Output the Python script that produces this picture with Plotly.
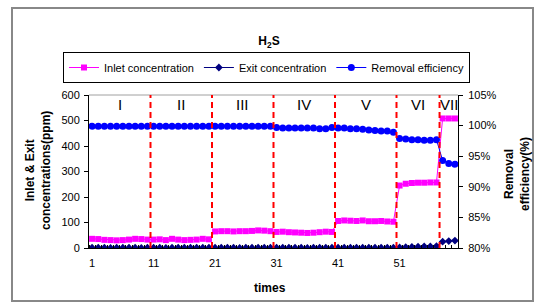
import plotly.graph_objects as go

# ---------------- data ----------------
times = list(range(1, 61))

inlet_ppm = [
    36, 35, 32, 31, 30, 31, 33, 36, 35, 33,          # I
    33, 34, 31, 36, 33, 31, 32, 33, 36, 34,          # II
    65, 66, 66, 65, 66, 66, 67, 69, 68, 66,          # III
    63, 64, 62, 61, 60, 59, 60, 62, 64, 63,          # IV
    106, 108, 107, 106, 108, 105, 105, 106, 104, 103,  # V
    245, 252, 255, 256, 256, 257, 257,               # VI
    508, 508, 508,                                   # VII
]

exit_ppm = [
    1, 1, 1, 0, 1, 1, 1, 1, 0, 1,
    1, 1, 0, 1, 1, 1, 1, 1, 1, 1,
    1, 1, 1, 1, 0, 1, 1, 1, 1, 1,
    1, 1, 1, 1, 1, 0, 1, 1, 1, 1,
    1, 1, 1, 1, 1, 1, 1, 1, 1, 1,
    2, 3, 4, 5, 6, 6, 7,
    25, 27, 29,
]

removal_pct = [
    99.9, 99.9, 99.9, 99.9, 99.9, 99.9, 99.9, 99.9, 99.9, 99.9,
    99.9, 99.9, 99.9, 99.9, 99.9, 99.9, 99.9, 99.9, 99.9, 99.9,
    99.9, 99.9, 99.9, 99.9, 99.9, 99.9, 99.9, 99.9, 99.9, 99.9,
    99.7, 99.6, 99.6, 99.6, 99.6, 99.6, 99.6, 99.5, 99.5, 99.7,
    99.6, 99.6, 99.5, 99.5, 99.4, 99.3, 99.2, 99.1, 99.1, 98.9,
    97.9, 97.8, 97.7, 97.7, 97.6, 97.6, 97.7,
    94.3, 93.8, 93.7,
]

phase_labels = ["I", "II", "III", "IV", "V", "VI", "VII"]
phase_centers = [5.5, 15.5, 25.5, 35.5, 45.5, 54.0, 59.0]
phase_boundaries = [10.5, 20.5, 30.5, 40.5, 50.5, 57.5]

x_tick_vals = [1, 11, 21, 31, 41, 51]
left_tick_vals = [0, 100, 200, 300, 400, 500, 600]
right_tick_vals = [80, 85, 90, 95, 100, 105]
right_tick_text = ["80%", "85%", "90%", "95%", "100%", "105%"]

FONT = "Arial, Liberation Sans, sans-serif"

# plot-area geometry (pixels)
L, R, T, B = 89, 458, 95, 248
PW, PH = R - L, B - T


def px_x(p):
    return (p - L) / PW


def px_y(p):
    return (B - p) / PH


# ---------------- figure ----------------
fig = go.Figure()

fig.add_trace(go.Scatter(
    x=times, y=inlet_ppm, name="Inlet concentration", mode="lines+markers",
    line=dict(color="#FF00FF", width=1),
    marker=dict(symbol="square", size=6, color="#FF00FF"),
))
fig.add_trace(go.Scatter(
    x=times, y=exit_ppm, name="Exit concentration", mode="lines+markers",
    line=dict(color="#000080", width=1),
    marker=dict(symbol="diamond", size=6, color="#000080"),
))
fig.add_trace(go.Scatter(
    x=times, y=removal_pct, name="Removal efficiency", mode="lines+markers",
    yaxis="y2",
    line=dict(color="#0000FF", width=1),
    marker=dict(symbol="circle", size=7, color="#0000FF"),
))

shapes = []
for b in phase_boundaries:
    shapes.append(dict(type="line", xref="x", yref="paper", x0=b, x1=b, y0=0, y1=1,
                       line=dict(color="#FF0000", width=2, dash="6px,4px"), layer="above"))
# top border of plot area (grey)
shapes.append(dict(type="line", xref="paper", yref="paper", x0=0, x1=1, y0=1, y1=1,
                   line=dict(color="#A0A0A0", width=1), layer="below"))
# outer chart frame
shapes.append(dict(type="rect", xref="paper", yref="paper",
                   x0=px_x(12), x1=px_x(533), y0=px_y(301), y1=px_y(8),
                   line=dict(color="#888888", width=2), layer="below"))

annotations = []
for lab, c in zip(phase_labels, phase_centers):
    annotations.append(dict(x=c, y=px_y(104), xref="x", yref="paper", text=lab,
                            showarrow=False, font=dict(family=FONT, size=15, color="black"),
                            xanchor="center", yanchor="middle"))
annotations.append(dict(x=px_x(38), y=px_y(171), xref="paper", yref="paper",
                        text="<b>Inlet & Exit<br>concentrations(ppm)</b>", textangle=-90,
                        showarrow=False, font=dict(family=FONT, size=12, color="black"),
                        xanchor="center", yanchor="middle"))
annotations.append(dict(x=px_x(517), y=px_y(174), xref="paper", yref="paper",
                        text="<b>Removal<br>efficiency(%)</b>", textangle=-90,
                        showarrow=False, font=dict(family=FONT, size=12, color="black"),
                        xanchor="center", yanchor="middle"))
annotations.append(dict(x=px_x(270), y=px_y(288), xref="paper", yref="paper",
                        text="<b>times</b>", showarrow=False,
                        font=dict(family=FONT, size=12, color="black"),
                        xanchor="center", yanchor="middle"))

fig.update_layout(
    width=538, height=307,
    margin=dict(l=L, r=538 - R, t=T, b=307 - B, autoexpand=False),
    paper_bgcolor="white", plot_bgcolor="white",
    font=dict(family=FONT, size=11, color="black"),
    title=dict(text="<b>H<sub>2</sub>S</b>", x=269 / 538, xanchor="center",
               y=1 - 41 / 307, yanchor="middle",
               font=dict(family=FONT, size=12, color="black")),
    showlegend=True,
    legend=dict(orientation="h", x=px_x(63), xanchor="left",
                y=px_y(52), yanchor="top",
                bordercolor="black", borderwidth=1, bgcolor="white",
                font=dict(family=FONT, size=11, color="black"),
                itemwidth=30, traceorder="normal", tracegroupgap=0),
    xaxis=dict(range=[0.5, 60.5], tickmode="array", tickvals=x_tick_vals,
               ticks="", showgrid=False, zeroline=False,
               showline=True, linecolor="black", linewidth=1,
               ticklabelstandoff=5,
               tickfont=dict(family=FONT, size=11, color="black"),
               minor=dict(tickmode="linear", tick0=0.5, dtick=1, ticks="inside",
                          ticklen=3, tickcolor="black", showgrid=False)),
    yaxis=dict(range=[0, 600], tickmode="array", tickvals=left_tick_vals,
               ticks="outside", ticklen=4, tickcolor="black",
               showgrid=False, zeroline=False,
               showline=True, linecolor="black", linewidth=1,
               ticklabelstandoff=2,
               tickfont=dict(family=FONT, size=11, color="black")),
    yaxis2=dict(range=[80, 105], overlaying="y", side="right",
                tickmode="array", tickvals=right_tick_vals, ticktext=right_tick_text,
                ticks="outside", ticklen=4, tickcolor="black",
                showgrid=False, zeroline=False,
                showline=True, linecolor="black", linewidth=1,
                ticklabelstandoff=3,
                tickfont=dict(family=FONT, size=11, color="black")),
    shapes=shapes,
    annotations=annotations,
)

fig.write_html("out.html", config={"displayModeBar": False},
               post_script="document.body.style.margin='0px';document.body.style.overflow='hidden';")
